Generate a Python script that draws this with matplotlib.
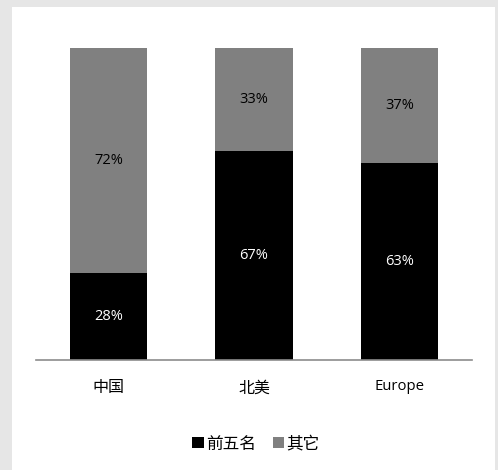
import matplotlib
matplotlib.use("Agg")
import matplotlib.pyplot as plt
from matplotlib.patches import Rectangle

categories = ["中国", "北美", "Europe"]
top5 = [28, 67, 63]
others = [72, 33, 37]
series_names = ["前五名", "其它"]

plt.rcParams['font.family'] = ['Open Sans', 'Noto Sans CJK SC', 'DejaVu Sans']

W, H = 498, 470
fig = plt.figure(figsize=(W / 100, H / 100), dpi=100)
fig.patch.set_facecolor("#e6e6e6")
fig.patches.append(Rectangle((12 / W, 0), (495 - 12) / W, (H - 7) / H,
                             transform=fig.transFigure, facecolor="white",
                             edgecolor="none", zorder=-10))

ax = fig.add_axes([36 / W, (H - 360) / H, (472 - 36) / W, (360 - 48) / H])
ax.set_facecolor("none")
ax.set_zorder(1)

x = list(range(len(categories)))
width = 0.53
b1 = ax.bar(x, top5, width, color="black", label=series_names[0])
b2 = ax.bar(x, others, width, bottom=top5, color="#808080", label=series_names[1])

for i in x:
    ax.text(i, top5[i] / 2, f"{top5[i]}%", ha="center", va="center",
            color="white", fontsize=10.5)
    ax.text(i, top5[i] + others[i] / 2, f"{others[i]}%", ha="center",
            va="center", color="black", fontsize=10.5)

ax.set_xlim(-0.5, 2.5)
ax.set_ylim(0, 100)
ax.set_yticks([])
ax.set_xticks(x)
ax.set_xticklabels(categories)
for lbl in ax.get_xticklabels():
    if lbl.get_text() == "Europe":
        lbl.set_family('Open Sans')
        lbl.set_fontsize(10.7)
    else:
        lbl.set_family(['Noto Sans CJK SC', 'Open Sans'])
        lbl.set_fontsize(11.5)
ax.tick_params(axis="x", length=0, pad=14)
for s in ["top", "right", "left"]:
    ax.spines[s].set_visible(False)
ax.spines["bottom"].set_color("#8c8c8c")
ax.spines["bottom"].set_linewidth(1.2)

leg = fig.legend(handles=[b1, b2], labels=series_names, loc="center",
                 bbox_to_anchor=(256 / W, (H - 444) / H), ncol=2, frameon=False,
                 handlelength=0.68, handleheight=0.68, handletextpad=0.12,
                 columnspacing=1.05, borderpad=0,
                 prop={'family': ['Noto Sans CJK SC'], 'size': 12})
leg.set_zorder(2)

fig.savefig("out.png", dpi=100, facecolor=fig.get_facecolor())
